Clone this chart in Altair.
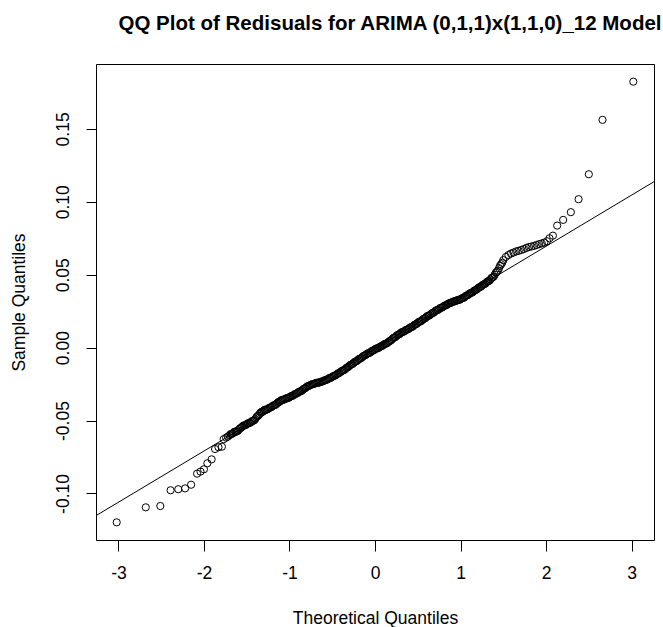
import altair as alt
import pandas as pd

# ---- data ----
# left tail (individual circles)
left_x = [-3.02, -2.68, -2.51, -2.39, -2.30, -2.22, -2.15, -2.08, -2.04, -2.00,
          -1.96, -1.91, -1.87, -1.83, -1.79, -1.77, -1.74, -1.72]
left_y = [-0.1198, -0.1095, -0.1086, -0.0978, -0.0971, -0.0965, -0.0940, -0.0864, -0.0850, -0.0834,
          -0.0793, -0.0766, -0.0695, -0.0683, -0.0679, -0.0628, -0.0617, -0.0610]

# dense middle band (first set of readings)
mid_x = [-1.700, -1.675, -1.650, -1.625, -1.600, -1.575, -1.550, -1.525, -1.500, -1.475,
         -1.450, -1.425, -1.400, -1.375, -1.350, -1.325, -1.300, -1.275, -1.250, -1.225,
         -1.200, -1.175, -1.150, -1.125, -1.100, -1.075, -1.050, -1.025, -1.000, -0.975,
         -0.950, -0.925, -0.900, -0.875, -0.850, -0.825, -0.800, -0.775, -0.750, -0.725,
         -0.700, -0.675, -0.650, -0.625, -0.600, -0.575, -0.550, -0.525, -0.500, -0.475,
         -0.450, -0.425, -0.400, -0.375, -0.350, -0.325, -0.300, -0.275, -0.250, -0.225,
         -0.200, -0.175, -0.150, -0.125, -0.100, -0.075, -0.050, -0.025, 0.000, 0.025,
         0.050, 0.075, 0.100, 0.125, 0.150, 0.175, 0.200, 0.225, 0.250, 0.275,
         0.300, 0.325, 0.350, 0.375, 0.400, 0.425, 0.450, 0.475, 0.500, 0.525,
         0.550, 0.575, 0.600, 0.625, 0.650, 0.675, 0.700, 0.725, 0.750, 0.775,
         0.800, 0.825, 0.850, 0.875, 0.900, 0.925, 0.950, 0.975, 1.000, 1.025,
         1.050, 1.075, 1.100, 1.125, 1.150, 1.175, 1.200, 1.225, 1.250, 1.275,
         1.300, 1.325, 1.350, 1.375, 1.400, 1.425, 1.450, 1.475, 1.500]
mid_y = [-0.0600, -0.0592, -0.0580, -0.0576, -0.0568, -0.0552, -0.0540, -0.0533, -0.0525, -0.0518,
         -0.0510, -0.0502, -0.0490, -0.0470, -0.0455, -0.0440, -0.0430, -0.0425, -0.0420, -0.0410,
         -0.0402, -0.0394, -0.0385, -0.0372, -0.0362, -0.0357, -0.0352, -0.0346, -0.0340, -0.0332,
         -0.0325, -0.0316, -0.0308, -0.0300, -0.0292, -0.0280, -0.0270, -0.0262, -0.0255, -0.0250,
         -0.0245, -0.0241, -0.0238, -0.0233, -0.0228, -0.0222, -0.0215, -0.0208, -0.0200, -0.0193,
         -0.0185, -0.0175, -0.0165, -0.0157, -0.0148, -0.0136, -0.0125, -0.0115, -0.0105, -0.0095,
         -0.0085, -0.0075, -0.0065, -0.0055, -0.0045, -0.0038, -0.0030, -0.0020, -0.0012, -0.0005,
         0.0002, 0.0011, 0.0020, 0.0027, 0.0035, 0.0046, 0.0058, 0.0069, 0.0080, 0.0090,
         0.0100, 0.0108, 0.0115, 0.0124, 0.0132, 0.0141, 0.0150, 0.0160, 0.0170, 0.0179,
         0.0188, 0.0199, 0.0210, 0.0219, 0.0228, 0.0238, 0.0248, 0.0257, 0.0265, 0.0274,
         0.0282, 0.0290, 0.0298, 0.0305, 0.0312, 0.0317, 0.0322, 0.0327, 0.0332, 0.0340,
         0.0348, 0.0358, 0.0368, 0.0376, 0.0385, 0.0395, 0.0405, 0.0415, 0.0425, 0.0435,
         0.0445, 0.0456, 0.0468, 0.0482, 0.0500, 0.0520, 0.0545, 0.0572, 0.0600]

# dense middle band (second set of readings, points lying between the first set)
mid2_x = [-1.6875, -1.6625, -1.6375, -1.6125, -1.5875, -1.5625, -1.5375, -1.5125, -1.4875, -1.4625,
          -1.4375, -1.4125, -1.3875, -1.3625, -1.3375, -1.3125, -1.2875, -1.2625, -1.2375, -1.2125,
          -1.1875, -1.1625, -1.1375, -1.1125, -1.0875, -1.0625, -1.0375, -1.0125, -0.9875, -0.9625,
          -0.9375, -0.9125, -0.8875, -0.8625, -0.8375, -0.8125, -0.7875, -0.7625, -0.7375, -0.7125,
          -0.6875, -0.6625, -0.6375, -0.6125, -0.5875, -0.5625, -0.5375, -0.5125, -0.4875, -0.4625,
          -0.4375, -0.4125, -0.3875, -0.3625, -0.3375, -0.3125, -0.2875, -0.2625, -0.2375, -0.2125,
          -0.1875, -0.1625, -0.1375, -0.1125, -0.0875, -0.0625, -0.0375, -0.0125, 0.0125, 0.0375,
          0.0625, 0.0875, 0.1125, 0.1375, 0.1625, 0.1875, 0.2125, 0.2375, 0.2625, 0.2875,
          0.3125, 0.3375, 0.3625, 0.3875, 0.4125, 0.4375, 0.4625, 0.4875, 0.5125, 0.5375,
          0.5625, 0.5875, 0.6125, 0.6375, 0.6625, 0.6875, 0.7125, 0.7375, 0.7625, 0.7875,
          0.8125, 0.8375, 0.8625, 0.8875, 0.9125, 0.9375, 0.9625, 0.9875, 1.0125, 1.0375,
          1.0625, 1.0875, 1.1125, 1.1375, 1.1625, 1.1875, 1.2125, 1.2375, 1.2625, 1.2875,
          1.3125, 1.3375, 1.3625, 1.3875, 1.4125, 1.4375, 1.4625, 1.4875]
mid2_y = [-0.0593, -0.0588, -0.0575, -0.0574, -0.0558, -0.0548, -0.0534, -0.0531, -0.0519, -0.0516,
          -0.0503, -0.0498, -0.0478, -0.0465, -0.0445, -0.0437, -0.0426, -0.0424, -0.0413, -0.0408,
          -0.0396, -0.0392, -0.0377, -0.0369, -0.0358, -0.0356, -0.0347, -0.0345, -0.0334, -0.0330,
          -0.0319, -0.0314, -0.0302, -0.0298, -0.0284, -0.0277, -0.0264, -0.0260, -0.0251, -0.0249,
          -0.0241, -0.0241, -0.0234, -0.0232, -0.0223, -0.0220, -0.0209, -0.0206, -0.0195, -0.0190,
          -0.0178, -0.0172, -0.0159, -0.0154, -0.0140, -0.0132, -0.0118, -0.0112, -0.0098, -0.0092,
          -0.0078, -0.0072, -0.0058, -0.0052, -0.0040, -0.0036, -0.0023, -0.0018, -0.0006, -0.0003,
          0.0008, 0.0013, 0.0025, 0.0029, 0.0042, 0.0050, 0.0066, 0.0072, 0.0087, 0.0093,
          0.0106, 0.0110, 0.0122, 0.0126, 0.0139, 0.0143, 0.0157, 0.0163, 0.0177, 0.0181,
          0.0196, 0.0202, 0.0217, 0.0221, 0.0235, 0.0240, 0.0255, 0.0259, 0.0272, 0.0276,
          0.0288, 0.0292, 0.0304, 0.0307, 0.0316, 0.0318, 0.0326, 0.0328, 0.0338, 0.0342,
          0.0355, 0.0361, 0.0374, 0.0378, 0.0392, 0.0398, 0.0412, 0.0418, 0.0432, 0.0438,
          0.0453, 0.0459, 0.0478, 0.0487, 0.0514, 0.0528, 0.0562, 0.0582]

# right tail
right_x = [1.53, 1.56, 1.59, 1.62, 1.65, 1.68, 1.71, 1.74, 1.77, 1.80,
           1.83, 1.86, 1.89, 1.92, 1.95, 1.98, 2.01, 2.04, 2.08, 2.13,
           2.20, 2.29, 2.38, 2.50, 2.66, 3.02]
right_y = [0.0622, 0.0635, 0.0645, 0.0652, 0.0660, 0.0664, 0.0670, 0.0676, 0.0684, 0.0690,
           0.0694, 0.0698, 0.0704, 0.0710, 0.0715, 0.0720, 0.0730, 0.0750, 0.0768, 0.0837,
           0.0876, 0.0929, 0.1018, 0.1189, 0.1562, 0.1824]

# reference (qqline) end points
line_x = [-3.262, 3.262]
line_y = [-0.1152, 0.1138]

x_ticks = [-3, -2, -1, 0, 1, 2, 3]
y_ticks = [-0.10, -0.05, 0.00, 0.05, 0.10, 0.15]

# ---- build tables ----
pts = pd.DataFrame({
    "x": left_x + mid_x + mid2_x + right_x,
    "y": left_y + mid_y + mid2_y + right_y,
})
ln = pd.DataFrame({"x": line_x, "y": line_y})

FONT = "Liberation Sans"
x_dom = [-3.262, 3.262]
y_dom = [-0.1319, 0.1945]

x_enc = alt.X(
    "x:Q",
    scale=alt.Scale(domain=x_dom, nice=False, zero=False),
    axis=alt.Axis(
        title="Theoretical Quantiles",
        values=x_ticks,
        labelExpr="replace(format(datum.value, 'd'), '\u2212', '-')",
        grid=False, domain=False,
        tickSize=11, tickColor="black", tickWidth=1,
        labelPadding=13, labelFontSize=17.5, labelFont=FONT, labelColor="black",
        titleFontSize=17.5, titleFont=FONT, titleFontWeight="normal", titleColor="black",
        titlePadding=28,
    ),
)
y_enc = alt.Y(
    "y:Q",
    scale=alt.Scale(domain=y_dom, nice=False, zero=False),
    axis=alt.Axis(
        title="Sample Quantiles",
        values=y_ticks,
        labelExpr="replace(format(datum.value, '.2f'), '\u2212', '-')",
        grid=False, domain=False,
        tickSize=10, tickColor="black", tickWidth=1,
        labelAngle=270, labelAlign="center", labelBaseline="alphabetic",
        labelPadding=18, labelFontSize=17.5, labelFont=FONT, labelColor="black",
        titleFontSize=17.5, titleFont=FONT, titleFontWeight="normal", titleColor="black",
        titlePadding=26,
    ),
)

points = alt.Chart(pts).mark_point(
    shape="circle", filled=False, color="black", size=52, strokeWidth=1, opacity=1
).encode(x=x_enc, y=y_enc)

qqline = alt.Chart(ln).mark_line(color="black", strokeWidth=1, clip=True).encode(
    x=alt.X("x:Q"), y=alt.Y("y:Q")
)

chart = (
    alt.layer(points, qqline)
    .properties(
        width=558,
        height=476,
        padding={"left": 96, "top": 64, "right": 9, "bottom": 87},
        autosize=alt.AutoSizeParams(type="none"),
        title=alt.TitleParams(
            text="QQ Plot of Redisuals for ARIMA (0,1,1)x(1,1,0)_12 Model",
            font=FONT, fontSize=20.5, fontWeight="bold", color="black",
            anchor="middle", dx=15, baseline="alphabetic", offset=14,
        ),
        background="white",
    )
    .configure_view(stroke="black", strokeWidth=1)
)

chart.save("out.html", embed_options={"renderer": "svg", "actions": False})
